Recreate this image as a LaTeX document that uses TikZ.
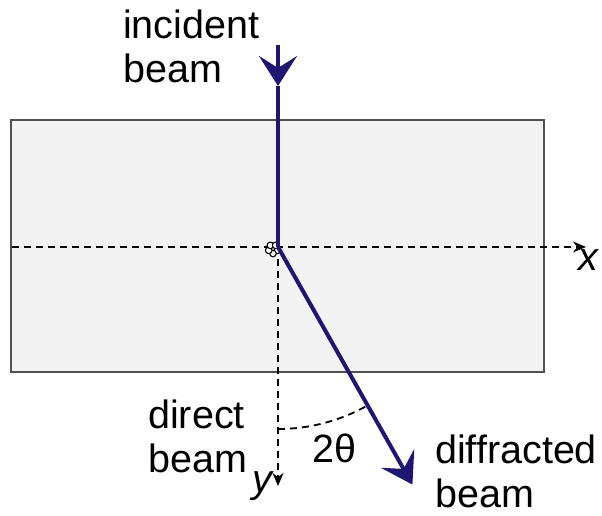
\documentclass[tikz,border=0pt]{standalone}
\usepackage{fontspec}
\setmainfont{Liberation Sans}
\usetikzlibrary{arrows.meta,positioning,calc}
\definecolor{beamblue}{RGB}{30,22,112}
\definecolor{slabgray}{RGB}{242,242,242}
\definecolor{edgegray}{RGB}{80,80,80}

\begin{document}
\begin{tikzpicture}[x=1pt,y=-1pt,
		labeltext/.style={font=\fontsize{39.5}{44}\selectfont, inner sep=0pt, anchor=base west, align=left},
		axisline/.style={dash pattern=on 7pt off 5pt, line width=1.8pt, -{Stealth[length=13pt,width=11pt]}},
		beamline/.style={draw=beamblue, line width=4pt},
		beamtip/.style={-{Stealth[length=30pt,width=38pt,inset=12pt]}}]
		\useasboundingbox (0,0) rectangle (602,516);
		
		% crystal slab
		\draw[fill=slabgray, draw=edgegray, line width=1.5pt] (11,120) rectangle (544,372);
		
		\coordinate (O) at (278,247);
		\coordinate (xend) at (586,247);
		\coordinate (yend) at (278,486);
		\coordinate (src) at (278,45);
		\coordinate (srctip) at (278,86);
		\coordinate (diffend) at ($(O)+(60.5:273)$);
		
		% axes
		\draw[axisline] (12,247) -- (xend);
		\draw[axisline] (O) -- (yend);
		\node[labeltext] (xlabel) at (578,270) {\itshape x};
		\node[labeltext] (ylabel) at (252,492) {\itshape y};
		
		% angle
		\draw[dash pattern=on 7pt off 5pt, line width=1.8pt] (O) ++(90:182) arc[start angle=90, end angle=60.5, radius=182];
		\node[labeltext] (angle) at (312,462) {2θ};
		
		% atoms
		\foreach \a in {18,90,162,234,306}
			\draw[line width=1.1pt, fill=white] ($(273,249)+(\a:4.5)$) circle (3.3);
		
		% beams
		\draw[beamline, beamtip] (src) -- (srctip);
		\draw[beamline] (srctip) -- (O);
		\draw[beamline, beamtip] (O) -- (diffend);
		
		% labels
		\node[labeltext] (incident) at (123,83) {incident\\beam};
		\node[labeltext] (direct) at (148,472) {direct\\beam};
		\node[labeltext] (diffracted) at (435,507) {diffracted\\beam};
	\end{tikzpicture}
\end{document}
